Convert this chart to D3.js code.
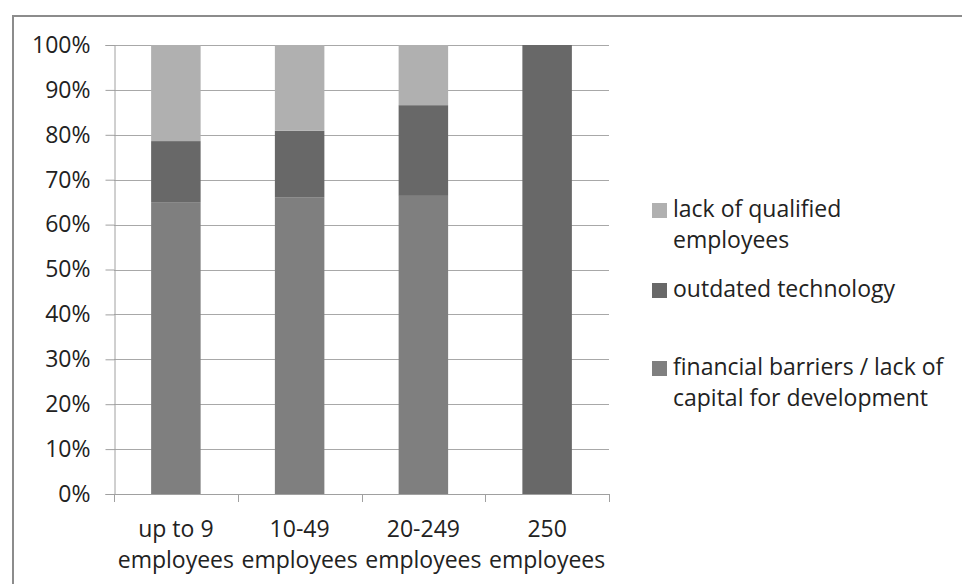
<!DOCTYPE html>
<html>
<head>
<meta charset="utf-8">
<script src="https://cdn.jsdelivr.net/npm/d3@7"></script>
<style>
  body { margin: 0; background: #fff; }
  svg text { font-family: "Open Sans", Lato, sans-serif; fill: #222; }
</style>
</head>
<body>
<div id="chart"></div>
<script>
// categories (two lines each) and series values in percent
var categories = ['up to 9 employees', '10-49 employees', '20-249 employees', '250 employees'];
var categoryLines = [['up to 9', 'employees'], ['10-49', 'employees'], ['20-249', 'employees'], ['250', 'employees']];
var financial = [65.0, 66.1, 66.4, 0];
var outdated  = [13.6, 14.8, 20.2, 100];
var lack      = [21.4, 19.1, 13.4, 0];
var yTicks    = [0, 10, 20, 30, 40, 50, 60, 70, 80, 90, 100];

var seriesNames  = ['financial', 'outdated', 'lack'];
var seriesColors = { financial: '#7f7f7f', outdated: '#686868', lack: '#b0b0b0' };
var legendItems = [
  { key: 'lack', lines: ['lack of qualified', 'employees'] },
  { key: 'outdated', lines: ['outdated technology'] },
  { key: 'financial', lines: ['financial barriers / lack of', 'capital for development'] }
];

var chart_width = 962, chart_height = 584;
var plot_left = 114, plot_right = 609, plot_top = 45, plot_bottom = 494;
var font_size = 23;

var rows = categories.map(function(c, i) {
  return { cat: c, financial: financial[i], outdated: outdated[i], lack: lack[i] };
});
var stacked = d3.stack().keys(seriesNames)(rows);

var x = d3.scaleBand().domain(categories).range([plot_left, plot_right])
          .paddingInner(0.6).paddingOuter(0.3);
var y = d3.scaleLinear().domain([0, 100]).range([plot_bottom, plot_top]);

var svg = d3.select('#chart').append('svg')
            .attr('width', chart_width).attr('height', chart_height);

// outer chart border (right/bottom fall outside the picture)
svg.append('rect')
   .attr('x', 13).attr('y', 16).attr('width', 1000).attr('height', 1000)
   .attr('fill', 'none').attr('stroke', '#8c8c8c').attr('stroke-width', 2);

// gridlines
svg.append('g').selectAll('line').data(yTicks.slice(1)).join('line')
   .attr('x1', plot_left).attr('x2', plot_right)
   .attr('y1', function(d) { return Math.round(y(d)) + 0.5; })
   .attr('y2', function(d) { return Math.round(y(d)) + 0.5; })
   .attr('stroke', '#a8a8a8');

// y axis
var yAxis = d3.axisLeft(y).tickValues(yTicks)
              .tickSize(9).tickPadding(15)
              .tickFormat(function(d) { return d + '%'; });
var gy = svg.append('g').attr('transform', 'translate(' + (plot_left + 0.5) + ',0)').call(yAxis);
gy.select('.domain').attr('stroke', '#a0a0a0');
gy.selectAll('.tick line').attr('stroke', '#a0a0a0');
gy.selectAll('.tick text').attr('font-size', font_size).attr('fill', '#222')
  .attr('font-family', '"Open Sans", Lato, sans-serif');

// x axis line and ticks at band boundaries
var step = x.step();
var xb = d3.range(categories.length + 1).map(function(i) { return plot_left + i * step; });
svg.append('line').attr('x1', plot_left).attr('x2', plot_right)
   .attr('y1', plot_bottom + 0.5).attr('y2', plot_bottom + 0.5).attr('stroke', '#a0a0a0');
svg.append('g').selectAll('line').data(xb).join('line')
   .attr('x1', function(d) { return Math.round(d) + 0.5; })
   .attr('x2', function(d) { return Math.round(d) + 0.5; })
   .attr('y1', plot_bottom).attr('y2', plot_bottom + 8)
   .attr('stroke', '#a0a0a0');

// bars
svg.append('g').selectAll('g').data(stacked).join('g')
   .attr('fill', function(s) { return seriesColors[s.key]; })
   .selectAll('rect').data(function(s) { return s; }).join('rect')
   .attr('x', function(d) { return x(d.data.cat); })
   .attr('width', x.bandwidth())
   .attr('y', function(d) { return y(d[1]); })
   .attr('height', function(d) { return y(d[0]) - y(d[1]); });

// category labels
var xl = svg.append('g').selectAll('text').data(categories).join('text')
   .attr('text-anchor', 'middle').attr('font-size', font_size)
   .attr('x', function(d) { return x(d) + x.bandwidth() / 2; })
   .attr('y', 537);
xl.selectAll('tspan').data(function(d, i) { return categoryLines[i]; }).join('tspan')
   .attr('x', function() { return this.parentNode.getAttribute('x'); })
   .attr('dy', function(d, i) { return i === 0 ? 0 : 31; })
   .text(function(d) { return d; });

// legend
var legendY = [217, 297, 375];
var lg = svg.append('g').selectAll('g').data(legendItems).join('g')
   .attr('transform', function(d, i) { return 'translate(652,' + legendY[i] + ')'; });
lg.append('rect').attr('x', 0).attr('y', -14).attr('width', 15).attr('height', 15)
  .attr('fill', function(d) { return seriesColors[d.key]; });
lg.append('text').attr('x', 21).attr('font-size', font_size)
  .selectAll('tspan').data(function(d) { return d.lines; }).join('tspan')
  .attr('x', 21).attr('dy', function(d, i) { return i === 0 ? 0 : 31; })
  .text(function(d) { return d; });
</script>
</body>
</html>
